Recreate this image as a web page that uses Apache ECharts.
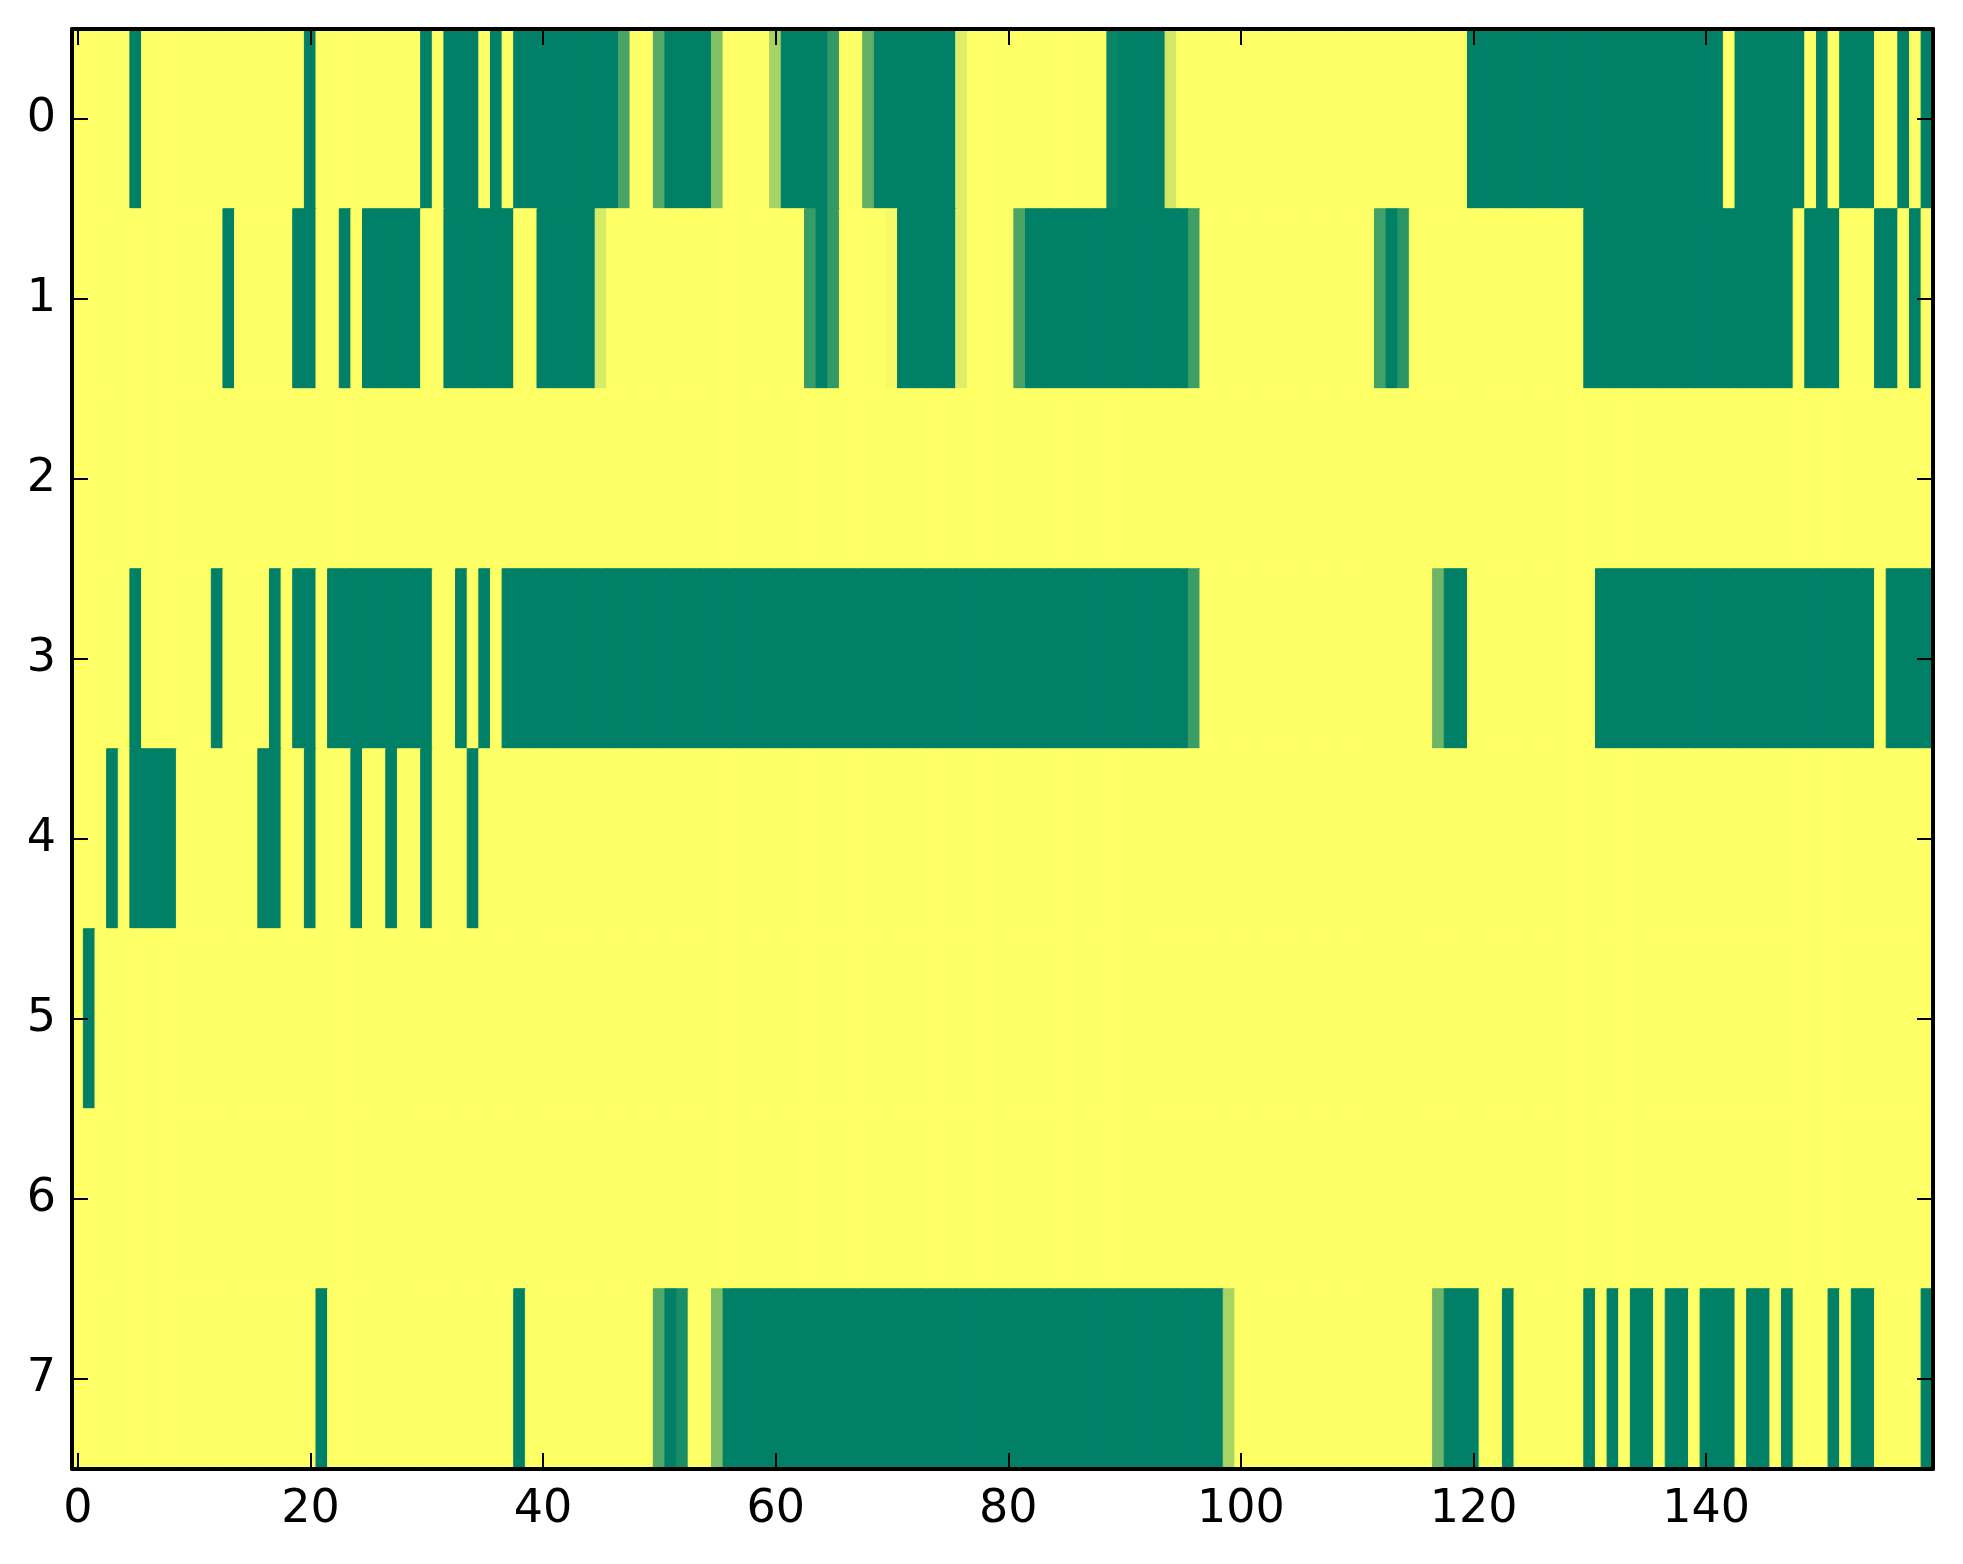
<!DOCTYPE html>
<html>
<head>
<meta charset="utf-8">
<script src="https://cdn.jsdelivr.net/npm/echarts@6/dist/echarts.min.js"></script>
<style>
html,body{margin:0;padding:0;background:#fff;}
#chart{width:1963px;height:1564px;}
</style>
</head>
<body>
<div id="chart"></div>
<script>
// 160 columns (0..159), 8 rows (0..7); values in [0,1] mapped to the "summer" colormap
var rowLabels = ['0','1','2','3','4','5','6','7'];
var xTickStep = 20;

var row0 = [
  1,1,1,1,1,0,1,1,1,1,
  1,1,1,1,1,1,1,1,1,1,
  0,1,1,1,1,1,1,1,1,1,
  0,1,0,0,0,1,0,1,0,0,
  0,0,0,0,0,0,0,0.29,1,1,
  0.33,0,0,0,0,0.51,1,1,1,1,
  0.65,0,0,0,0,0.2,1,1,0.39,0,
  0,0,0,0,0,0,0.87,1,1,1,
  1,1,1,1,1,1,1,1,1,0.04,
  0,0,0,0,0.82,1,1,1,1,1,
  1,1,1,1,1,1,1,1,1,1,
  1,1,1,1,1,1,1,1,1,1,
  0,0,0,0,0,0,0,0,0,0,
  0,0,0,0,0,0,0,0,0,0,
  0,0,1,0,0,0,0,0,0,1,
  0,1,0,0,0,1,1,0,1,0
];
var row1 = [
  1,1,1,1,1,1,1,1,1,1,
  1,1,1,0,1,1,1,1,1,0,
  0,1,1,0,1,0,0,0,0,0,
  1,1,0,0,0,0,0,0,1,1,
  0,0,0,0,0,0.84,1,1,1,1,
  1,1,1,1,1,1,1,1,1,1,
  1,1,1,0.22,0,0.2,1,1,1,1,
  0.96,0,0,0,0,0,0.87,1,1,1,
  1,0.29,0,0,0,0,0,0,0,0,
  0,0,0,0,0,0,0.24,1,1,1,
  1,1,1,1,1,1,1,1,1,1,
  1,1,0.26,0,0.16,1,1,1,1,1,
  1,1,1,1,1,1,1,1,1,1,
  0,0,0,0,0,0,0,0,0,0,
  0,0,0,0,0,0,0,0,1,0,
  0,0,1,1,1,0,0,1,0,1
];
var row2 = [
  1,1,1,1,1,1,1,1,1,1, 1,1,1,1,1,1,1,1,1,1,
  1,1,1,1,1,1,1,1,1,1, 1,1,1,1,1,1,1,1,1,1,
  1,1,1,1,1,1,1,1,1,1, 1,1,1,1,1,1,1,1,1,1,
  1,1,1,1,1,1,1,1,1,1, 1,1,1,1,1,1,1,1,1,1,
  1,1,1,1,1,1,1,1,1,1, 1,1,1,1,1,1,1,1,1,1,
  1,1,1,1,1,1,1,1,1,1, 1,1,1,1,1,1,1,1,1,1,
  1,1,1,1,1,1,1,1,1,1, 1,1,1,1,1,1,1,1,1,1,
  1,1,1,1,1,1,1,1,1,1, 1,1,1,1,1,1,1,1,1,1
];
var row3 = [
  1,1,1,1,1,0,1,1,1,1,
  1,1,0,1,1,1,1,0,1,0,
  0,1,0,0,0,0,0,0,0,0,
  0,1,1,0,1,0,1,0,0,0,
  0,0,0,0,0,0,0,0,0,0,
  0,0,0,0,0,0,0,0,0,0,
  0,0,0,0,0,0,0,0,0,0,
  0,0,0,0,0,0,0,0,0,0,
  0,0,0,0,0,0,0,0,0,0,
  0,0,0,0,0,0,0.23,1,1,1,
  1,1,1,1,1,1,1,1,1,1,
  1,1,1,1,1,1,1,0.43,0,0,
  1,1,1,1,1,1,1,1,1,1,
  1,0,0,0,0,0,0,0,0,0,
  0,0,0,0,0,0,0,0,0,0,
  0,0,0,0,0,1,0,0,0,0
];
var row4 = [
  1,1,1,0,1,0,0,0,0,1,
  1,1,1,1,1,1,0,0,1,1,
  0,1,1,1,0,1,1,0,1,1,
  0,1,1,1,0,1,1,1,1,1,
  1,1,1,1,1,1,1,1,1,1, 1,1,1,1,1,1,1,1,1,1,
  1,1,1,1,1,1,1,1,1,1, 1,1,1,1,1,1,1,1,1,1,
  1,1,1,1,1,1,1,1,1,1, 1,1,1,1,1,1,1,1,1,1,
  1,1,1,1,1,1,1,1,1,1, 1,1,1,1,1,1,1,1,1,1,
  1,1,1,1,1,1,1,1,1,1, 1,1,1,1,1,1,1,1,1,1,
  1,1,1,1,1,1,1,1,1,1, 1,1,1,1,1,1,1,1,1,1
];
var row5 = [
  1,0,1,1,1,1,1,1,1,1, 1,1,1,1,1,1,1,1,1,1,
  1,1,1,1,1,1,1,1,1,1, 1,1,1,1,1,1,1,1,1,1,
  1,1,1,1,1,1,1,1,1,1, 1,1,1,1,1,1,1,1,1,1,
  1,1,1,1,1,1,1,1,1,1, 1,1,1,1,1,1,1,1,1,1,
  1,1,1,1,1,1,1,1,1,1, 1,1,1,1,1,1,1,1,1,1,
  1,1,1,1,1,1,1,1,1,1, 1,1,1,1,1,1,1,1,1,1,
  1,1,1,1,1,1,1,1,1,1, 1,1,1,1,1,1,1,1,1,1,
  1,1,1,1,1,1,1,1,1,1, 1,1,1,1,1,1,1,1,1,1
];
var row6 = [
  1,1,1,1,1,1,1,1,1,1, 1,1,1,1,1,1,1,1,1,1,
  1,1,1,1,1,1,1,1,1,1, 1,1,1,1,1,1,1,1,1,1,
  1,1,1,1,1,1,1,1,1,1, 1,1,1,1,1,1,1,1,1,1,
  1,1,1,1,1,1,1,1,1,1, 1,1,1,1,1,1,1,1,1,1,
  1,1,1,1,1,1,1,1,1,1, 1,1,1,1,1,1,1,1,1,1,
  1,1,1,1,1,1,1,1,1,1, 1,1,1,1,1,1,1,1,1,1,
  1,1,1,1,1,1,1,1,1,1, 1,1,1,1,1,1,1,1,1,1,
  1,1,1,1,1,1,1,1,1,1, 1,1,1,1,1,1,1,1,1,1
];
var row7 = [
  1,1,1,1,1,1,1,1,1,1,
  1,1,1,1,1,1,1,1,1,1,
  1,0,1,1,1,1,1,1,1,1,
  1,1,1,1,1,1,1,1,0,1,
  1,1,1,1,1,1,1,1,1,1,
  0.32,0,0.1,1,1,0.49,0,0,0,0,
  0,0,0,0,0,0,0,0,0,0,
  0,0,0,0,0,0,0,0,0,0,
  0,0,0,0,0,0,0,0,0,0,
  0,0,0,0,0,0,0,0,0,0.66,
  1,1,1,1,1,1,1,1,1,1,
  1,1,1,1,1,1,1,0.43,0,0,
  0,1,1,0,1,1,1,1,1,1,
  0,1,0,1,0,0,1,0,0,1,
  0,0,0,1,0,0,1,0,1,1,
  1,0,1,0,0,1,1,1,1,0
];

var rows = [row0,row1,row2,row3,row4,row5,row6,row7];
var colLabels = row0.map(function(_, i){ return String(i); });

// matplotlib "summer" colormap: (v, 0.5 + 0.5 v, 0.4)
function summer(v){
  var r = Math.round(255 * v);
  var g = Math.round(255 * (0.5 + 0.5 * v));
  var b = Math.round(255 * 0.4);
  return 'rgb(' + r + ',' + g + ',' + b + ')';
}

var data = [];
rows.forEach(function(r, y){
  r.forEach(function(v, x){
    var c = summer(v);
    data.push({value:[x, y, v], itemStyle:{color:c, borderColor:c, borderWidth:1}});
  });
});

var font = 'DejaVu Sans';
var tickEvery = function(i){ return i % xTickStep === 0; };
var lineStyle = {color:'#000', width:4};
var tickStyle = {color:'#000', width:2};

var chart = echarts.init(document.getElementById('chart'), null, {renderer:'canvas'});
chart.setOption({
  backgroundColor:'#ffffff',
  animation:false,
  grid:{left:72, right:30, top:29, bottom:95},
  xAxis:[
    {type:'category', data:colLabels, position:'bottom', z:10,
     axisLine:{show:true, onZero:false, lineStyle:lineStyle},
     axisTick:{show:true, inside:true, length:16, alignWithLabel:true, interval:tickEvery, lineStyle:tickStyle},
     axisLabel:{show:true, interval:tickEvery, margin:18, color:'#000', fontSize:46, fontFamily:font},
     splitLine:{show:false}},
    {type:'category', data:colLabels, position:'top', z:10,
     axisLine:{show:true, onZero:false, lineStyle:lineStyle},
     axisTick:{show:true, inside:true, length:16, alignWithLabel:true, interval:tickEvery, lineStyle:tickStyle},
     axisLabel:{show:false},
     splitLine:{show:false}}
  ],
  yAxis:[
    {type:'category', data:rowLabels, inverse:true, position:'left', z:10,
     axisLine:{show:true, onZero:false, lineStyle:lineStyle},
     axisTick:{show:true, inside:true, length:16, alignWithLabel:true, lineStyle:tickStyle},
     axisLabel:{show:true, margin:16, color:'#000', fontSize:46, fontFamily:font},
     splitLine:{show:false}},
    {type:'category', data:rowLabels, inverse:true, position:'right', z:10,
     axisLine:{show:true, onZero:false, lineStyle:lineStyle},
     axisTick:{show:true, inside:true, length:16, alignWithLabel:true, lineStyle:tickStyle},
     axisLabel:{show:false},
     splitLine:{show:false}}
  ],
  series:[{
    type:'heatmap', xAxisIndex:0, yAxisIndex:0, data:data,
    emphasis:{disabled:true}
  }]
});
</script>
</body>
</html>
